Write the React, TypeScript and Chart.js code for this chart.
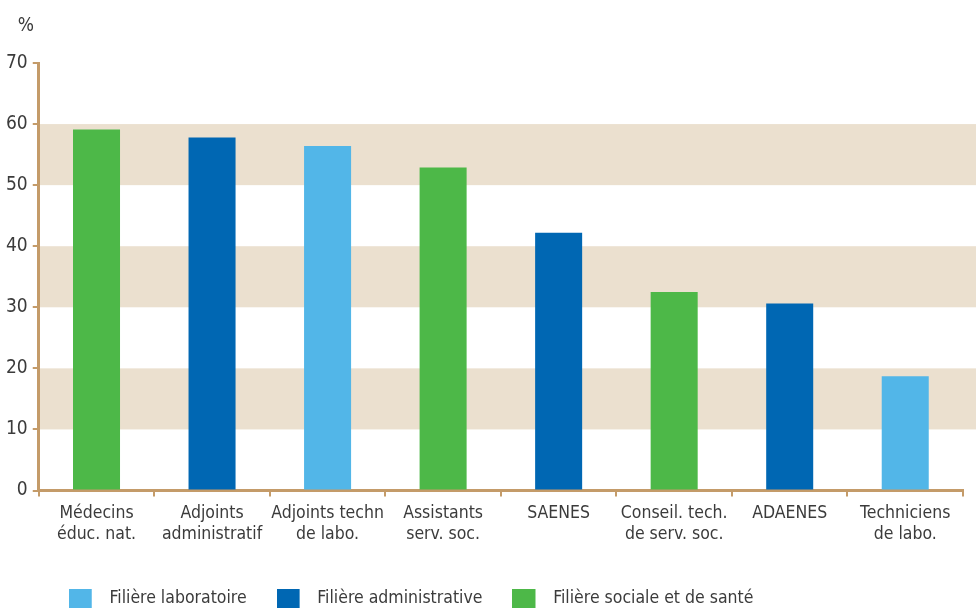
import React, { useEffect, useRef } from "react";
import { Chart, registerables } from "chart.js";

Chart.register(...registerables);

const categories: string[][] = [
  ["Médecins", "éduc. nat."],
  ["Adjoints", "administratif"],
  ["Adjoints techn", "de labo."],
  ["Assistants", "serv. soc."],
  ["SAENES"],
  ["Conseil. tech.", "de serv. soc."],
  ["ADAENES"],
  ["Techniciens", "de labo."],
];

const seriesNames = [
  "Filière laboratoire",
  "Filière administrative",
  "Filière sociale et de santé",
];

const laboratoire = [null, null, 56.4, null, null, null, null, 18.7];
const administrative = [null, 57.8, null, null, 42.2, null, 30.6, null];
const sociale = [59.1, null, null, 52.9, null, 32.5, null, null];

const yMin = 0;
const yMax = 70;
const yStep = 10;
const bands = [
  [10, 20],
  [30, 40],
  [50, 60],
];
const unitLabel = "%";

const FONT = "'DejaVu Sans Condensed', 'Liberation Sans Narrow', Arial, sans-serif";
const TEXT = "#3b3b3b";
const AXIS = "#c49b69";
const BAND = "#ebe0cf";
const COLORS = ["#52b6e8", "#0067b3", "#4db848"];

const bandPlugin = {
  id: "bands",
  beforeDraw(chart: any) {
    const { ctx, chartArea, scales } = chart;
    const y = scales.y;
    ctx.save();
    ctx.fillStyle = BAND;
    bands.forEach(([lo, hi]) => {
      const top = y.getPixelForValue(hi);
      const bottom = y.getPixelForValue(lo);
      ctx.fillRect(chartArea.left, top, chart.width - chartArea.left, bottom - top);
    });
    ctx.restore();
  },
};

const unitPlugin = {
  id: "unit",
  afterDraw(chart: any) {
    const { ctx, chartArea } = chart;
    ctx.save();
    ctx.font = `19px ${FONT}`;
    ctx.fillStyle = TEXT;
    ctx.textAlign = "left";
    ctx.textBaseline = "middle";
    ctx.fillText(unitLabel, chartArea.left - 21, chartArea.top - 37);
    ctx.restore();
  },
};

function makeSwatch(color: string) {
  const c = document.createElement("canvas");
  c.width = 32;
  c.height = 20;
  const g = c.getContext("2d")!;
  g.fillStyle = color;
  g.fillRect(0, 0, 23, 20);
  return c;
}

export default function App() {
  const ref = useRef<HTMLCanvasElement | null>(null);

  useEffect(() => {
    if (!ref.current) return;
    const legendPad = 30;
    const swatches = COLORS.map(makeSwatch);
    const chart = new Chart(ref.current, {
      type: "bar",
      data: {
        labels: categories,
        datasets: [laboratoire, administrative, sociale].map((d, i) => ({
          label: seriesNames[i],
          data: d,
          backgroundColor: COLORS[i],
          borderWidth: 0,
          categoryPercentage: 1,
          barPercentage: 0.407,
          skipNull: true,
        })),
      },
      options: {
        animation: false,
        responsive: true,
        maintainAspectRatio: false,
        layout: { padding: { left: 1, right: 13, top: 63, bottom: -9.5 } },
        plugins: {
          legend: {
            position: "bottom",
            align: "start",
            fullSize: false,
            labels: {
              usePointStyle: true,
              pointStyleWidth: 32,
              boxWidth: 32,
              boxHeight: 20,
              padding: legendPad,
              color: TEXT,
              font: { family: FONT, size: 17.5 },
              generateLabels: (ch: any) => {
                const items = (Chart as any).defaults.plugins.legend.labels.generateLabels(ch);
                return items.map((it: any, i: number) => ({
                  ...it,
                  pointStyle: swatches[i],
                  lineWidth: 0,
                }));
              },
            },
          },
          tooltip: { enabled: false },
          title: { display: false },
        },
        scales: {
          x: {
            stacked: true,
            offset: true,
            afterFit: (s: any) => {
              s.height = 99.5 - legendPad;
            },
            grid: {
              offset: true,
              drawOnChartArea: false,
              drawTicks: true,
              tickLength: 6,
              color: AXIS,
              lineWidth: 2,
            },
            border: { display: true, color: AXIS, width: 3 },
            ticks: {
              color: TEXT,
              font: { family: FONT, size: 17.5, lineHeight: 1.2 },
              padding: 6,
              maxRotation: 0,
              autoSkip: false,
            },
          },
          y: {
            stacked: true,
            min: yMin,
            max: yMax,
            grid: {
              drawOnChartArea: false,
              drawTicks: true,
              tickLength: 6,
              color: AXIS,
              lineWidth: 2,
            },
            border: { display: true, color: AXIS, width: 3 },
            ticks: {
              stepSize: yStep,
              color: TEXT,
              font: { family: FONT, size: 19 },
              padding: 5,
            },
          },
        },
      },
      plugins: [bandPlugin, unitPlugin],
    });
    return () => chart.destroy();
  }, []);

  return (
    <div style={{ position: "fixed", left: 0, top: 0, width: 976, height: 608, background: "#fff" }}>
      <canvas ref={ref} />
    </div>
  );
}
